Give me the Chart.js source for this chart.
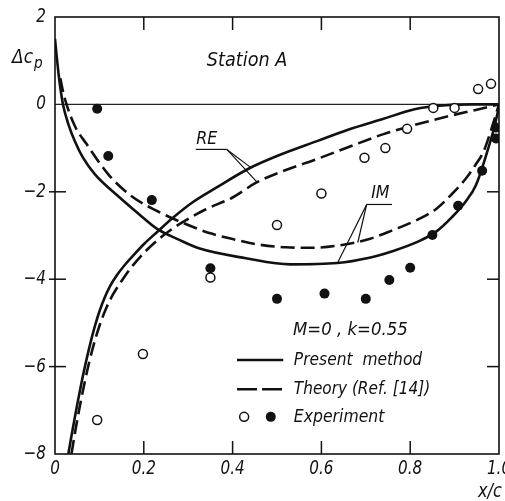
<!DOCTYPE html>
<html>
<head>
<meta charset="utf-8">
<script src="https://cdn.jsdelivr.net/npm/chart.js@4"></script>
<style>
  html, body { margin: 0; padding: 0; background: #fff; }
  #chart { display: block; }
</style>
</head>
<body>
<canvas id="chart" width="505" height="501"></canvas>
<script>
// Station A, M=0, k=0.55
const rePresentX = [0.03, 0.04, 0.05, 0.06, 0.07, 0.08, 0.09, 0.1, 0.112, 0.124, 0.14, 0.16, 0.175, 0.2, 0.23, 0.265, 0.31, 0.364, 0.44, 0.5, 0.59, 0.66, 0.74, 0.81, 0.88, 0.94, 1.0];
const rePresentY = [-8, -7.42, -6.87, -6.35, -5.88, -5.45, -5.07, -4.74, -4.42, -4.16, -3.9, -3.64, -3.47, -3.2, -2.92, -2.6, -2.24, -1.9, -1.45, -1.18, -0.84, -0.58, -0.33, -0.11, -0.02, 0, 0];

const reTheoryX = [0.037, 0.047, 0.057, 0.067, 0.077, 0.088, 0.1, 0.115, 0.13, 0.146, 0.16, 0.175, 0.2, 0.24, 0.28, 0.34, 0.4, 0.455, 0.52, 0.59, 0.66, 0.74, 0.81, 0.89, 0.95, 1.0];
const reTheoryY = [-8, -7.4, -6.85, -6.35, -5.9, -5.47, -5.07, -4.67, -4.36, -4.1, -3.89, -3.69, -3.4, -3.03, -2.74, -2.4, -2.13, -1.78, -1.5, -1.25, -0.98, -0.68, -0.47, -0.26, -0.12, 0];

const imPresentX = [0, 0.004, 0.008, 0.012, 0.018, 0.03, 0.045, 0.063, 0.09, 0.14, 0.19, 0.23, 0.28, 0.326, 0.43, 0.53, 0.636, 0.708, 0.76, 0.82, 0.86, 0.894, 0.925, 0.948, 0.973, 0.99, 1.0];
const imPresentY = [1.5, 1.08, 0.7, 0.38, 0, -0.45, -0.85, -1.22, -1.6, -2.08, -2.52, -2.85, -3.1, -3.3, -3.52, -3.66, -3.63, -3.51, -3.36, -3.13, -2.9, -2.58, -2.22, -1.85, -1.1, -0.5, -0.05];

const imTheoryX = [0.012, 0.018, 0.026, 0.045, 0.072, 0.12, 0.175, 0.23, 0.29, 0.35, 0.4, 0.454, 0.52, 0.58, 0.656, 0.708, 0.76, 0.82, 0.86, 0.894, 0.925, 0.948, 0.966, 0.985, 1.0];
const imTheoryY = [0.6, 0.3, 0, -0.5, -0.92, -1.6, -2.12, -2.44, -2.72, -2.95, -3.08, -3.2, -3.27, -3.28, -3.2, -3.08, -2.88, -2.62, -2.38, -2.05, -1.7, -1.37, -1.06, -0.5, 0];

// experiment: open circles = RE, filled = IM
const reExpX = [0.095, 0.198, 0.35, 0.5, 0.6, 0.697, 0.744, 0.793, 0.852, 0.9, 0.953, 0.982];
const reExpY = [-7.22, -5.71, -3.96, -2.76, -2.04, -1.22, -1.0, -0.56, -0.08, -0.08, 0.35, 0.47];
const imExpX = [0.095, 0.12, 0.218, 0.35, 0.5, 0.607, 0.7, 0.753, 0.8, 0.85, 0.908, 0.962, 0.993, 0.993];
const imExpY = [-0.1, -1.18, -2.19, -3.75, -4.45, -4.33, -4.45, -4.02, -3.74, -2.99, -2.32, -1.52, -0.53, -0.78];

const xTicks = [0, 0.2, 0.4, 0.6, 0.8, 1.0];
const xTickLabels = ['0', '0.2', '0.4', '0.6', '0.8', '1.0'];
const yTicks = [2, 0, -2, -4, -6, -8];
const yTickLabels = ['2', '0', '\u22122', '\u22124', '\u22126', '\u22128'];

const FONT = '"DejaVu Sans", "Liberation Sans", sans-serif';

function pairs(xs, ys) {
    return xs.map((x, i) => ({ x: x, y: ys[i] }));
}

// italic text, squeezed sideways like the condensed lettering of the print
function label(ctx, text, x, y, size, align, sx) {
    ctx.save();
    ctx.font = 'italic ' + size + 'px ' + FONT;
    ctx.textBaseline = 'middle';
    ctx.textAlign = align || 'left';
    ctx.translate(x, y);
    ctx.scale(sx || 0.82, 1);
    ctx.fillStyle = '#111';
    ctx.fillText(text, 0, 0);
    ctx.restore();
}

function seg(ctx, x1, y1, x2, y2) {
    ctx.beginPath();
    ctx.moveTo(x1, y1);
    ctx.lineTo(x2, y2);
    ctx.stroke();
}

const figurePlugin = {
    id: 'figure',
    beforeDatasetsDraw(chart) {
        const ctx = chart.ctx;
        const a = chart.chartArea;
        const y0 = chart.scales.y.getPixelForValue(0);
        ctx.save();
        ctx.strokeStyle = '#222';
        ctx.lineWidth = 1.2;
        seg(ctx, a.left, y0, a.right, y0);
        ctx.restore();
    },
    afterDatasetsDraw(chart) {
        const ctx = chart.ctx;
        const a = chart.chartArea;
        const sx = chart.scales.x, sy = chart.scales.y;
        const px = v => sx.getPixelForValue(v);
        const py = v => sy.getPixelForValue(v);

        ctx.save();
        ctx.strokeStyle = '#111';
        ctx.lineWidth = 1.6;
        ctx.strokeRect(a.left, a.top, a.right - a.left, a.bottom - a.top);

        // inward ticks
        ctx.lineWidth = 1.5;
        xTicks.slice(1, -1).forEach(v => {
            seg(ctx, px(v), a.bottom, px(v), a.bottom - 13);
            seg(ctx, px(v), a.top, px(v), a.top + 13);
        });
        yTicks.slice(2, -1).forEach(v => {
            seg(ctx, a.left - 6, py(v), a.left + 11, py(v));
            seg(ctx, a.right, py(v), a.right - 12, py(v));
        });

        xTicks.forEach((v, i) => label(ctx, xTickLabels[i], px(v), a.bottom + 15, 19, 'center', 0.8));
        yTicks.forEach((v, i) => label(ctx, yTickLabels[i], a.left - 9, py(v), 19, 'right', 0.8));

        // axis titles
        label(ctx, '\u0394c', 12, 58, 20, 'left', 0.85);
        label(ctx, 'p', 34, 64, 16, 'left', 0.85);
        label(ctx, 'x/c', 490, 492, 19, 'center', 0.85);

        label(ctx, 'Station A', px(0.342), py(0.99), 19, 'left', 0.93);

        // RE / IM callouts
        ctx.lineWidth = 1.2;
        label(ctx, 'RE', px(0.318), py(-0.8), 18, 'left', 0.88);
        seg(ctx, px(0.317), py(-1.03), px(0.387), py(-1.03));
        seg(ctx, px(0.387), py(-1.03), px(0.439), py(-1.43));
        seg(ctx, px(0.387), py(-1.03), px(0.455), py(-1.78));

        label(ctx, 'IM', px(0.712), py(-2.03), 18, 'left', 0.88);
        seg(ctx, px(0.702), py(-2.29), px(0.759), py(-2.29));
        seg(ctx, px(0.702), py(-2.29), px(0.637), py(-3.61));
        seg(ctx, px(0.702), py(-2.29), px(0.682), py(-3.16));

        // legend
        const lx1 = px(0.41), lx2 = px(0.514), tx = px(0.538);
        label(ctx, 'M=0 , k=0.55', px(0.536), py(-5.16), 18, 'left', 0.92);
        ctx.lineWidth = 2.6;
        seg(ctx, lx1, py(-5.85), lx2, py(-5.85));
        label(ctx, 'Present  method', tx, py(-5.85), 18, 'left', 0.86);
        ctx.setLineDash([20, 5]);
        seg(ctx, lx1, py(-6.52), lx2, py(-6.52));
        ctx.setLineDash([]);
        label(ctx, 'Theory (Ref. [14])', tx, py(-6.52), 18, 'left', 0.85);

        ctx.lineWidth = 1.5;
        ctx.beginPath();
        ctx.arc(px(0.426), py(-7.15), 4.5, 0, Math.PI * 2);
        ctx.stroke();
        ctx.beginPath();
        ctx.arc(px(0.486), py(-7.15), 5, 0, Math.PI * 2);
        ctx.fillStyle = '#111';
        ctx.fill();
        label(ctx, 'Experiment', tx, py(-7.15), 18, 'left', 0.87);
        ctx.restore();
    }
};

function curve(xs, ys, dash) {
    return {
        data: pairs(xs, ys),
        showLine: true,
        borderColor: '#111',
        borderWidth: 2.6,
        borderDash: dash,
        pointRadius: 0,
        cubicInterpolationMode: 'monotone',
        fill: false
    };
}

const ctx = document.getElementById('chart').getContext('2d');

new Chart(ctx, {
    type: 'scatter',
    data: {
        datasets: [
            {
                data: pairs(reExpX, reExpY),
                pointRadius: 4.5,
                pointBorderWidth: 1.5,
                pointBorderColor: '#111',
                pointBackgroundColor: '#fff'
            },
            {
                data: pairs(imExpX, imExpY),
                pointRadius: 5,
                pointBorderWidth: 0,
                pointBackgroundColor: '#111'
            },
            curve(rePresentX, rePresentY, []),
            curve(reTheoryX, reTheoryY, [14, 6]),
            curve(imPresentX, imPresentY, []),
            curve(imTheoryX, imTheoryY, [14, 6])
        ]
    },
    options: {
        responsive: false,
        animation: false,
        devicePixelRatio: 1,
        layout: {
            padding: { left: 55, right: 6, top: 17, bottom: 47 }
        },
        scales: {
            x: { type: 'linear', min: 0, max: 1, display: false },
            y: { type: 'linear', min: -8, max: 2, display: false }
        },
        plugins: {
            legend: { display: false },
            tooltip: { enabled: false }
        }
    },
    plugins: [figurePlugin]
});
</script>
</body>
</html>
